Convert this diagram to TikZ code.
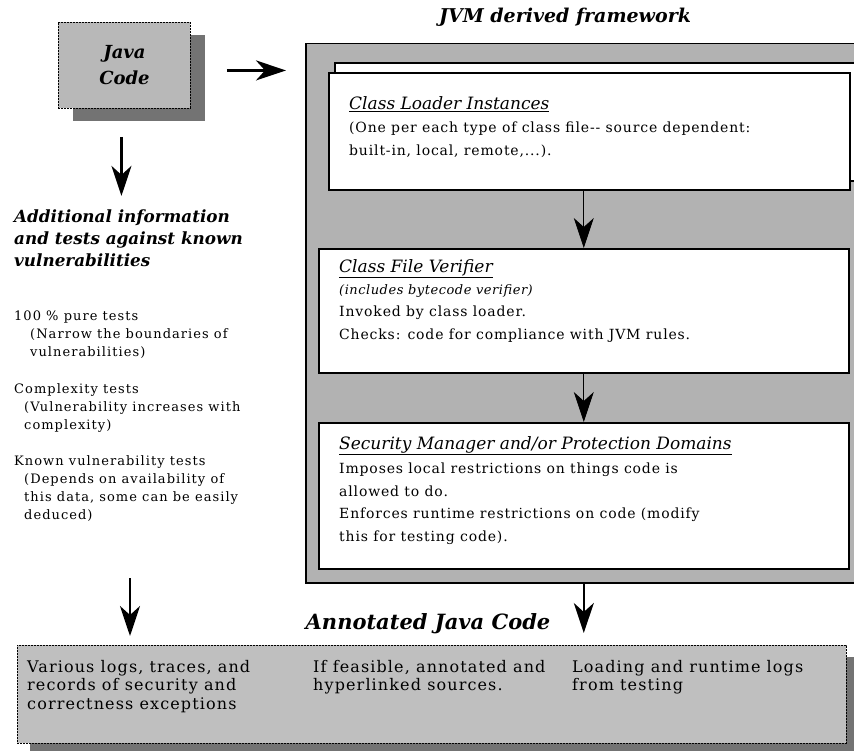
\documentclass[tikz,border=0pt]{standalone}
\usepackage{fontspec}
\setmainfont{DejaVu Serif}
\usetikzlibrary{arrows.meta,shadows,calc}
\begin{document}
\begin{tikzpicture}[x=1pt,y=-1pt,
  bigarrow/.style={line width=2.6pt,-{Stealth[length=30pt,width=20pt,inset=9pt]}},
  innerarrow/.style={line width=0.8pt,-{Stealth[length=30pt,width=20pt,inset=9pt]}},
  dotbox/.style={draw,dash pattern=on 2pt off 1pt,line width=0.9pt,fill=black!28,anchor=north west,inner sep=0pt},
  whitebox/.style={draw,line width=1.6pt,fill=white,anchor=north west,inner sep=0pt},
  txt/.style={anchor=north west,inner sep=0pt,align=left},
  boxbody/.style={txt,font=\fontsize{14}{22.5}\selectfont\addfontfeature{LetterSpace=6}},
  boxhead/.style={txt,font=\fontsize{17}{21}\selectfont\itshape},
  leftbody/.style={txt,font=\fontsize{13}{18}\selectfont\addfontfeature{LetterSpace=8}},
  anntext/.style={txt,font=\fontsize{16}{18.5}\selectfont\addfontfeature{LetterSpace=7}},
  title/.style={inner sep=0pt,font=\fontsize{19}{24}\selectfont\bfseries\itshape}
]
\useasboundingbox (0,0) rectangle (854,751);
\clip (0,0) rectangle (854,751);

% Java Code box
\node (java) [dotbox,minimum width=132pt,minimum height=86pt,align=center,
  font=\fontsize{18}{26}\selectfont\bfseries\itshape,
  drop shadow={shadow xshift=15pt,shadow yshift=-13pt,fill=black!55,opacity=1}]
  at (58,22) {Java\\Code};

% JVM framework
\node (jvmtitle) [title] at (565,17) {JVM derived framework};
\node (jvm) [draw,line width=1.5pt,fill=black!30,anchor=north west,minimum width=560pt,minimum height=539pt,inner sep=0pt] at (305,43) {};

\node (clback) [whitebox,minimum width=530pt,minimum height=118pt] at (334,62) {};
\node (cl) [whitebox,minimum width=521pt,minimum height=117pt] at (328,72) {};
\node (clhead) [boxhead] at (349,96) {\underline{Class Loader Instances}};
\node (clbody) [boxbody] at (349,122) {(One per each type of class file-{}- source dependent:\\built-in, local, remote,...).};

\node (cfv) [whitebox,minimum width=530pt,minimum height=124pt] at (318,248) {};
\node (cfvhead) [boxhead] at (339,259) {\underline{Class File Verifier}};
\node (cfvbody) [boxbody] at (339,284) {{\itshape\fontsize{13}{22.5}\selectfont\addfontfeature{LetterSpace=4}(includes bytecode verifier)}\\Invoked by class loader.\\Checks: code for compliance with JVM rules.};

\node (sm) [whitebox,minimum width=530pt,minimum height=146pt] at (318,422) {};
\node (smhead) [boxhead] at (339,436) {\underline{Security Manager and/or Protection Domains}};
\node (smbody) [boxbody] at (339,463) {Imposes local restrictions on things code is\\allowed to do.\\Enforces runtime restrictions on code (modify\\this for testing code).};

% left column
\node (addl) [txt,font=\fontsize{16.8}{22}\selectfont\bfseries\itshape] at (14,210) {Additional information\\and tests against known\\vulnerabilities};
\node (pure) [leftbody] at (14,311) {100 \% pure tests\\\hspace*{16pt}(Narrow the boundaries of\\\hspace*{16pt}vulnerabilities)};
\node (cplx) [leftbody] at (14,383) {Complexity tests\\\hspace*{10pt}(Vulnerability increases with\\\hspace*{10pt}complexity)};
\node (known) [leftbody] at (14,455) {Known vulnerability tests\\\hspace*{10pt}(Depends on availability of\\\hspace*{10pt}this data, some can be easily\\\hspace*{10pt}deduced)};

% annotated code
\node (anntitle) [title,font=\fontsize{21}{26}\selectfont\bfseries\itshape] at (428,624) {Annotated Java Code};
\node (ann) [dotbox,fill=black!25,minimum width=829pt,minimum height=98pt,
  drop shadow={shadow xshift=13pt,shadow yshift=-12pt,fill=black!55,opacity=1}]
  at (17,645) {};
\node (col1) [anntext] at (27,660) {Various logs, traces, and\\records of security and\\correctness exceptions};
\node (col2) [anntext] at (313,660) {If feasible, annotated and\\hyperlinked sources.};
\node (col3) [anntext] at (572,660) {Loading and runtime logs\\from testing};

% arrows
\coordinate (ra) at ($(java.east)+(36,5)$);
\draw[bigarrow] (ra) -- ($(jvm.west |- ra)+(-19,0)$);
\draw[bigarrow] ($(java.south)+(-3,28)$) -- ($(java.south)+(-3,87)$);
\draw[innerarrow] (cfv.north |- cl.south) -- (cfv.north);
\draw[innerarrow] (cfv.south) -- (sm.north);
\draw[bigarrow] (sm.south |- jvm.south) -- ($(sm.south |- ann.north)+(0,-12)$);
\draw[bigarrow] ($(ann.north west)+(113,-67)$) -- ($(ann.north west)+(113,-9)$);
\end{tikzpicture}
\end{document}
